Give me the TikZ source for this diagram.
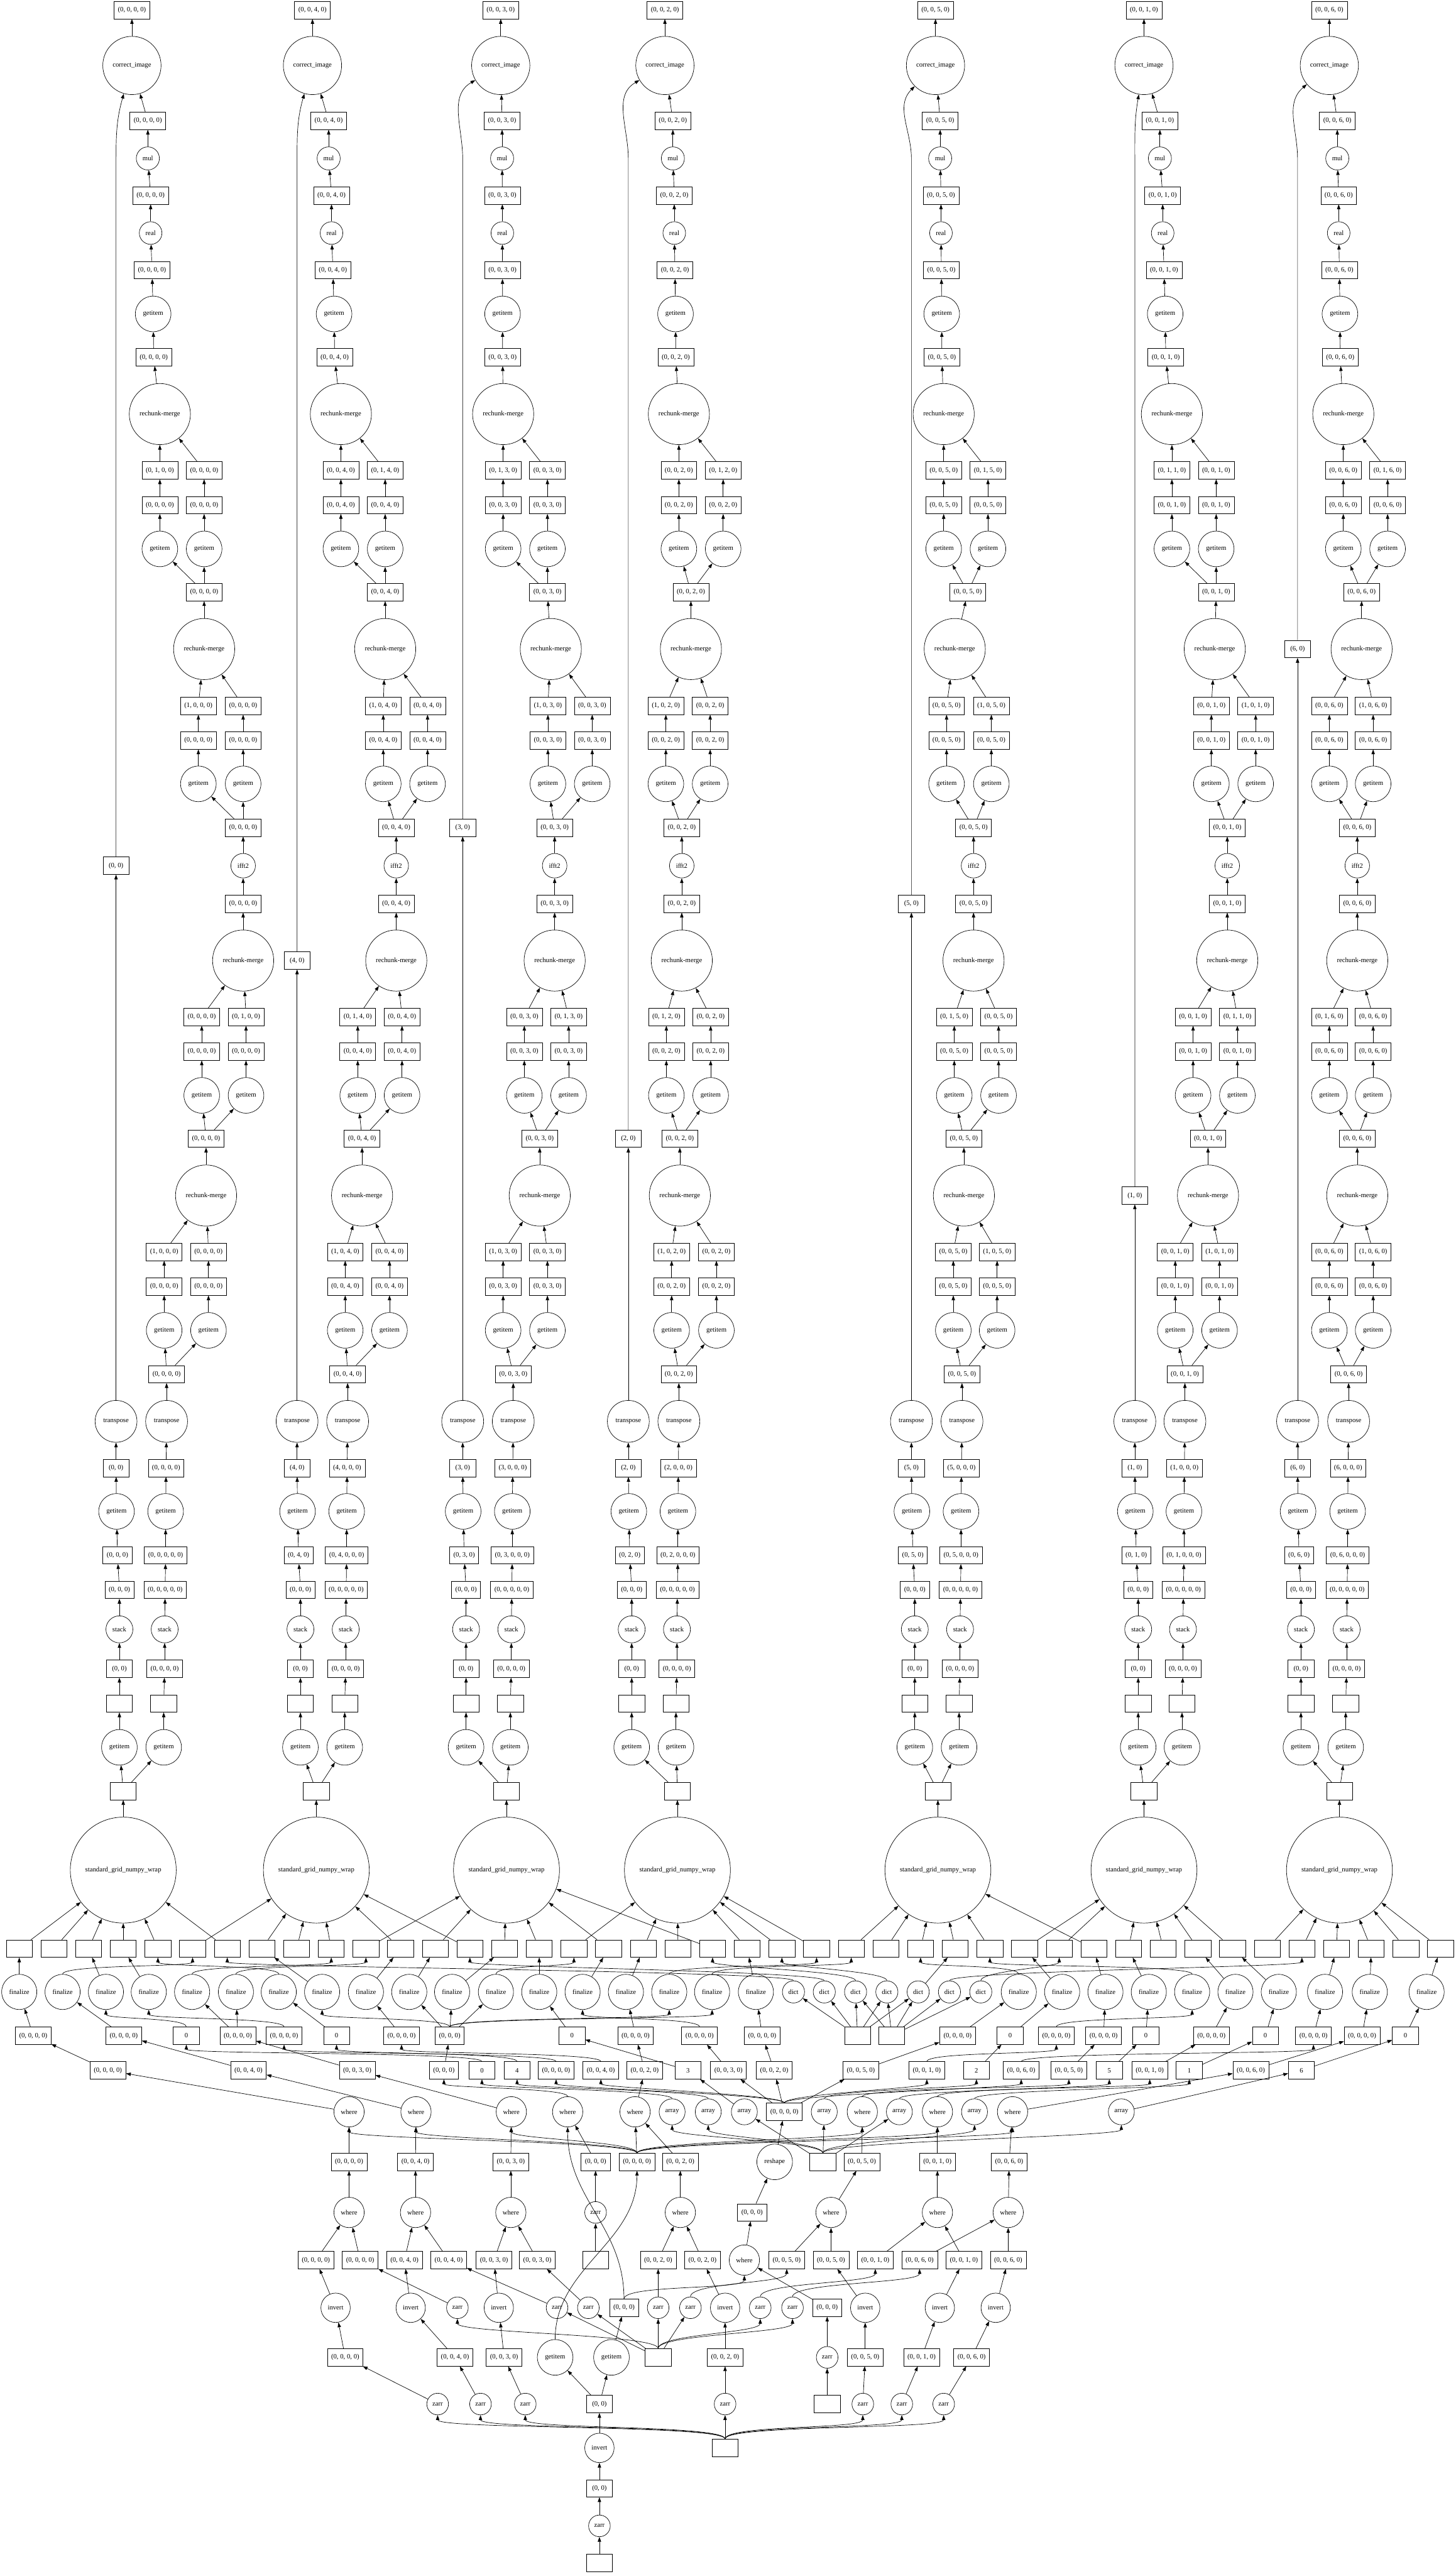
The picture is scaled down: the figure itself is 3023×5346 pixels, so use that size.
\documentclass[tikz,border=0pt]{standalone}
\usepackage{fontspec}
\setmainfont{Liberation Serif}
\usetikzlibrary{arrows.meta}
\pgfkeys{/col/.is family,/col,
 id/.store in=\cid,k/.store in=\ck,L/.store in=\cL,T/.store in=\cT,top/.store in=\ctop,
 r9/.store in=\cRn,al/.store in=\cAl,ar/.store in=\cAr,r13/.store in=\cRb,r14/.store in=\cRc,
 bl/.store in=\cBl,br/.store in=\cBr,r18/.store in=\cRd,dl/.store in=\cDl,dr/.store in=\cDr,
 r25/.store in=\cRe,el/.store in=\cEl,er/.store in=\cEr,sg/.store in=\cSG,ky/.store in=\cKy,
 ang/.store in=\cAng,oa/.store in=\cOa,ob/.store in=\cOb,od/.store in=\cOd,oe/.store in=\cOe}
\tikzset{
 every node/.style={font=\fontsize{14}{16}\selectfont},
 arr/.style={line width=0.9pt,-{Triangle[length=10pt,width=7pt]}},
 bx/.style={draw,line width=0.9pt,rectangle,minimum width=54pt,minimum height=36pt,inner xsep=8pt,inner ysep=1pt},
 op/.style={draw,line width=0.9pt,circle,inner sep=0pt},
 oci/.style={op,minimum size=121pt}, omul/.style={op,minimum size=48pt},
 oreal/.style={op,minimum size=47pt}, oget/.style={op,minimum size=74pt},
 orech/.style={op,minimum size=127pt}, offt/.style={op,minimum size=51pt},
 otr/.style={op,minimum size=87pt}, ostack/.style={op,minimum size=56pt},
 osg/.style={op,minimum size=220pt}, ofin/.style={op,minimum size=73pt},
 odict/.style={op,minimum size=46pt}, owh/.style={op,minimum size=63pt},
 oarr/.style={op,minimum size=54pt}, ors/.style={op,minimum size=74pt},
 oza/.style={op,minimum size=45pt}, oinv/.style={op,minimum size=61pt}
}
\newcommand\sE[2]{\draw[arr] (#1) -- (#2);}
\newcommand\cE[3][22]{\draw[arr] (#2.north) .. controls +(0,-#1) and +(0,#1) .. (#3.south);}
\newcommand\dcol[1]{%
\pgfkeys{/col,#1}%
\edef\cLz{(0, 0, \ck, 0)}\edef\cLo{(0, 1, \ck, 0)}\edef\cLt{(1, 0, \ck, 0)}%
\ifnum\cOa=1\relax\let\tAL\cLo\let\tAR\cLz\else\let\tAL\cLz\let\tAR\cLo\fi
\ifnum\cOb=1\relax\let\tBL\cLt\let\tBR\cLz\else\let\tBL\cLz\let\tBR\cLt\fi
\ifnum\cOd=1\relax\let\tDL\cLo\let\tDR\cLz\else\let\tDL\cLz\let\tDR\cLo\fi
\ifnum\cOe=1\relax\let\tEL\cLt\let\tER\cLz\else\let\tEL\cLz\let\tER\cLt\fi
\pgfmathsetmacro\cXa{\ctop+0.57*(\cRn-\ctop)}%
\pgfmathsetmacro\cXb{\ctop+0.67*(\cRn-\ctop)}%
\pgfmathsetmacro\cXc{\ctop+0.72*(\cRn-\ctop)}%
\pgfmathsetmacro\cXd{\ctop+0.76*(\cRn-\ctop)}%
\pgfmathsetmacro\cXe{\ctop+0.78*(\cRn-\ctop)}%
\node[bx] (\cid r0) at (\ctop,21) {\cLz};
\node[oci] (\cid r1) at (\ctop,136) {correct\_image};
\node[bx] (\cid r2) at (\cXa,251) {\cLz};
\node[omul] (\cid r3) at (\cXa,329) {mul};
\node[bx] (\cid r4) at (\cXb,406) {\cLz};
\node[oreal] (\cid r5) at (\cXb,484) {real};
\node[bx] (\cid r6) at (\cXc,561) {\cLz};
\node[oget] (\cid r7) at (\cXd,652) {getitem};
\node[bx] (\cid r8) at (\cXe,742) {\cLz};
\node[orech] (\cid r9) at (\cRn,860) {rechunk-merge};
\node[bx] (\cid a0) at (\cAl,977) {\tAL};
\node[bx] (\cid b0) at (\cAr,977) {\tAR};
\node[bx] (\cid a1) at (\cAl,1049) {\cLz};
\node[bx] (\cid b1) at (\cAr,1049) {\cLz};
\node[oget] (\cid a2) at (\cAl,1140) {getitem};
\node[oget] (\cid b2) at (\cAr,1140) {getitem};
\node[bx] (\cid r13) at (\cRb,1230) {\cLz};
\node[orech] (\cid r14) at (\cRc,1348) {rechunk-merge};
\node[bx] (\cid c0) at (\cBl,1466) {\tBL};
\node[bx] (\cid d0) at (\cBr,1466) {\tBR};
\node[bx] (\cid c1) at (\cBl,1538) {\cLz};
\node[bx] (\cid d1) at (\cBr,1538) {\cLz};
\node[oget] (\cid c2) at (\cBl,1628) {getitem};
\node[oget] (\cid d2) at (\cBr,1628) {getitem};
\node[bx] (\cid r18) at (\cRd,1719) {\cLz};
\node[offt] (\cid r19) at (\cRd,1798) {ifft2};
\node[bx] (\cid r20) at (\cRd,1877) {\cLz};
\node[orech] (\cid r21) at (\cRd,1995) {rechunk-merge};
\node[bx] (\cid e0) at (\cDl,2112) {\tDL};
\node[bx] (\cid f0) at (\cDr,2112) {\tDR};
\node[bx] (\cid e1) at (\cDl,2184) {\cLz};
\node[bx] (\cid f1) at (\cDr,2184) {\cLz};
\node[oget] (\cid e2) at (\cDl,2275) {getitem};
\node[oget] (\cid f2) at (\cDr,2275) {getitem};
\node[bx] (\cid r25) at (\cRe,2365) {\cLz};
\node[orech] (\cid r26) at (\cRe,2483) {rechunk-merge};
\node[bx] (\cid g0) at (\cEl,2600) {\tEL};
\node[bx] (\cid h0) at (\cEr,2600) {\tER};
\node[bx] (\cid g1) at (\cEl,2672) {\cLz};
\node[bx] (\cid h1) at (\cEr,2672) {\cLz};
\node[oget] (\cid g2) at (\cEl,2763) {getitem};
\node[oget] (\cid h2) at (\cEr,2763) {getitem};
\node[bx] (\cid r30) at (\cT,2854) {\cLz};
\node[otr] (\cid tl) at (\cL,2952) {transpose};
\node[otr] (\cid tr) at (\cT,2952) {transpose};
\node[bx] (\cid kb) at (\cL,\cKy) {(\ck, 0)};
\node[bx] (\cid l0) at (\cL,3049) {(\ck, 0)};
\node[oget] (\cid l1) at (\cL+1,3139) {getitem};
\node[bx] (\cid l2) at (\cL+3,3230) {(0, \ck, 0)};
\node[bx] (\cid l3) at (\cL+7,3302) {(0, 0, 0)};
\node[ostack] (\cid l4) at (\cL+7,3384) {stack};
\node[bx] (\cid l5) at (\cL+7,3466) {(0, 0)};
\node[bx] (\cid l6) at (\cL+7,3538) {};
\node[oget] (\cid l7) at (\cL+7,3629) {getitem};
\node[bx] (\cid m0) at (\cT-1,3049) {(\ck, 0, 0, 0)};
\node[oget] (\cid m1) at (\cT-2,3139) {getitem};
\node[bx] (\cid m2) at (\cT-2,3230) {(0, \ck, 0, 0, 0)};
\node[bx] (\cid m3) at (\cT-3,3302) {(0, 0, 0, 0, 0)};
\node[ostack] (\cid m4) at (\cT-4,3384) {stack};
\node[bx] (\cid m5) at (\cT-4,3466) {(0, 0, 0, 0)};
\node[bx] (\cid m6) at (\cT-6,3538) {};
\node[oget] (\cid m7) at (\cT-6,3629) {getitem};
\node[bx] (\cid sb) at (\cSG,3720) {};
\node[osg] (\cid sg) at (\cSG,3884) {standard\_grid\_numpy\_wrap};
\sE{\cid r1}{\cid r0}\sE{\cid r2}{\cid r1}\sE{\cid r3}{\cid r2}\sE{\cid r4}{\cid r3}
\sE{\cid r5}{\cid r4}\sE{\cid r6}{\cid r5}\sE{\cid r7}{\cid r6}\sE{\cid r8}{\cid r7}
\sE{\cid r9}{\cid r8}\sE{\cid a0}{\cid r9}\sE{\cid b0}{\cid r9}
\sE{\cid a1}{\cid a0}\sE{\cid b1}{\cid b0}\sE{\cid a2}{\cid a1}\sE{\cid b2}{\cid b1}
\sE{\cid r13}{\cid a2}\sE{\cid r13}{\cid b2}\sE{\cid r14}{\cid r13}
\sE{\cid c0}{\cid r14}\sE{\cid d0}{\cid r14}\sE{\cid c1}{\cid c0}\sE{\cid d1}{\cid d0}
\sE{\cid c2}{\cid c1}\sE{\cid d2}{\cid d1}\sE{\cid r18}{\cid c2}\sE{\cid r18}{\cid d2}
\sE{\cid r19}{\cid r18}\sE{\cid r20}{\cid r19}\sE{\cid r21}{\cid r20}
\sE{\cid e0}{\cid r21}\sE{\cid f0}{\cid r21}\sE{\cid e1}{\cid e0}\sE{\cid f1}{\cid f0}
\sE{\cid e2}{\cid e1}\sE{\cid f2}{\cid f1}\sE{\cid r25}{\cid e2}\sE{\cid r25}{\cid f2}
\sE{\cid r26}{\cid r25}\sE{\cid g0}{\cid r26}\sE{\cid h0}{\cid r26}
\sE{\cid g1}{\cid g0}\sE{\cid h1}{\cid h0}\sE{\cid g2}{\cid g1}\sE{\cid h2}{\cid h1}
\sE{\cid r30}{\cid g2}\sE{\cid r30}{\cid h2}\sE{\cid tr}{\cid r30}
\sE{\cid tl}{\cid kb}
\draw[arr] (\cid kb.north) -- (\cL,330) to[out=90,in=\cAng] (\cid r1);
\sE{\cid l0}{\cid tl}\sE{\cid l1}{\cid l0}\sE{\cid l2}{\cid l1}\sE{\cid l3}{\cid l2}
\sE{\cid l4}{\cid l3}\sE{\cid l5}{\cid l4}\sE{\cid l6}{\cid l5}\sE{\cid l7}{\cid l6}
\sE{\cid m0}{\cid tr}\sE{\cid m1}{\cid m0}\sE{\cid m2}{\cid m1}\sE{\cid m3}{\cid m2}
\sE{\cid m4}{\cid m3}\sE{\cid m5}{\cid m4}\sE{\cid m6}{\cid m5}\sE{\cid m7}{\cid m6}
\sE{\cid sb}{\cid l7}\sE{\cid sb}{\cid m7}\sE{\cid sg}{\cid sb}
}
\begin{document}
\begin{tikzpicture}[x=1pt,y=-1pt]
\fill[white] (0,0) rectangle (3023,5346);
\useasboundingbox (0,0) rectangle (3023,5346);
\dcol{id=c1,k=0,L=241,T=346,top=274,r9=332,al=332,ar=424,r13=424,r14=424,bl=412,br=505,r18=505,dl=419,dr=511,r25=428,el=341,er=433,sg=256,ky=1798,ang=-106,oa=1,ob=1,od=0,oe=1}
\dcol{id=c2,k=4,L=617,T=722,top=649,r9=708,al=708,ar=800,r13=800,r14=800,bl=796,br=888,r18=823,dl=743,dr=835,r25=752,el=717,er=809,sg=657,ky=1995,ang=-106,oa=0,ob=1,od=1,oe=1}
\dcol{id=c3,k=3,L=961,T=1066,top=1040,r9=1045,al=1045,ar=1137,r13=1137,r14=1144,bl=1138,br=1230,r18=1152,dl=1089,dr=1181,r25=1121,el=1045,er=1137,sg=1052,ky=1719,ang=-150,oa=1,ob=1,od=0,oe=1}
\dcol{id=c4,k=2,L=1305,T=1410,top=1381,r9=1410,al=1410,ar=1502,r13=1435,r14=1435,bl=1383,br=1475,r18=1416,dl=1384,dr=1476,r25=1412,el=1395,er=1488,sg=1407,ky=2365,ang=-150,oa=0,ob=1,od=1,oe=1}
\dcol{id=c5,k=5,L=1893,T=1998,top=1943,r9=1960,al=1960,ar=2052,r13=2010,r14=1983,bl=1966,br=2059,r18=2022,dl=1982,dr=2074,r25=2002,el=1980,er=2071,sg=1948,ky=1877,ang=-135,oa=0,ob=0,od=1,oe=0}
\dcol{id=c6,k=1,L=2357,T=2461,top=2376,r9=2434,al=2434,ar=2526,r13=2526,r14=2523,bl=2516,br=2608,r18=2549,dl=2478,dr=2570,r25=2509,el=2441,er=2533,sg=2376,ky=2483,ang=-100,oa=1,ob=0,od=0,oe=0}
\dcol{id=c7,k=6,L=2695,T=2801,top=2761,r9=2790,al=2790,ar=2882,r13=2828,r14=2828,bl=2761,br=2852,r18=2819,dl=2761,dr=2852,r25=2819,el=2761,er=2852,sg=2782,ky=1348,ang=-140,oa=0,ob=0,od=1,oe=0}
% R42 blank boxes
\foreach \i in {0,...,41} {\node[bx] (b\i) at ({40+72*\i},4047) {};}
\foreach \i in {0,1,2,3,4,6} {\sE{b\i}{c1sg}}
\foreach \i in {5,7,8,9,11,13} {\sE{b\i}{c2sg}}
\foreach \i in {10,12,14,15,17,20} {\sE{b\i}{c3sg}}
\foreach \i in {16,18,19,21,22,23} {\sE{b\i}{c4sg}}
\foreach \i in {24,25,26,27,28,31} {\sE{b\i}{c5sg}}
\foreach \i in {29,30,32,33,34,35} {\sE{b\i}{c6sg}}
\foreach \i in {36,...,41} {\sE{b\i}{c7sg}}
% R43
\foreach \x in {40,130,220,309,399,490,579,669,760,850,939,1030,1120,1210,1300,1390,1479,1570,2116,2206,2296,2386,2476,2566,2656,2752,2845,2963} {\node[ofin] (f\x) at (\x,4137) {finalize};}
\foreach \x in {1648,1712,1777,1842,1907,1972,2037} {\node[odict] (d\x) at (\x,4137) {dict};}
\foreach \a/\b in {40/0,220/2,309/3,669/7,760/11,850/12,939/14,1120/15,1210/17,1300/18,1570/21,2206/29,2296/31,2386/32,2566/34,2656/35,2752/38,2845/39,2963/41} {\sE{f\a}{b\b}}
\foreach \a/\b in {130/5,399/9,490/10,579/4,1030/16,1390/23,1479/24,2116/26,2476/28} {\cE[20]{f\a}{b\b}}
\sE{d1907}{b27}
\foreach \a/\b in {1648/6,1712/13,1777/20,1842/22,1972/37,2037/30} {\cE[20]{d\a}{b\b}}
% R44
\foreach \n/\x/\t in {a69/69/{(0, 0, 0, 0)},a257/257/{(0, 0, 0, 0)},z387/387/0,a494/494/{(0, 0, 0, 0)},a590/590/{(0, 0, 0, 0)},z699/699/0,a834/834/{(0, 0, 0, 0)},hub/934/{(0, 0, 0)},z1188/1188/0,a1320/1320/{(0, 0, 0, 0)},a1453/1453/{(0, 0, 0, 0)},a1583/1583/{(0, 0, 0, 0)},s1781/1781/{},s1852/1852/{},a1989/1989/{(0, 0, 0, 0)},z2098/2098/0,a2194/2194/{(0, 0, 0, 0)},a2292/2292/{(0, 0, 0, 0)},z2380/2380/0,a2516/2516/{(0, 0, 0, 0)},z2628/2628/0,a2728/2728/{(0, 0, 0, 0)},a2829/2829/{(0, 0, 0, 0)},z2919/2919/0} {\node[bx] (\n) at (\x,4228) {\t};}
\foreach \a/\b in {a69/40,a257/130,a494/399,a494/490,z699/579,a834/760,hub/850,hub/939,hub/1030,z1188/1120,a1320/1300,a1583/1570,a1989/2116,z2098/2206,a2292/2296,z2380/2386,a2516/2566,z2628/2656,a2728/2752,a2829/2845,z2919/2963} {\sE{\a}{f\b}}
\foreach \a/\b in {z387/220,a590/309,hub/669,a1453/1210,hub/1390,hub/1479,a2194/2476} {\cE[20]{\a}{f\b}}
\foreach \a/\b in {s1781/1648,s1781/1712,s1781/1777,s1781/1842,s1781/1907,s1852/1777,s1852/1842,s1852/1907,s1852/1972,s1852/2037} {\sE{\a}{d\b}}
% R45
\foreach \n/\x/\t in {w224/224/{(0, 0, 0, 0)},w516/516/{(0, 0, 4, 0)},w742/742/{(0, 0, 3, 0)},h922/922/{(0, 0, 0)},i1001/1001/0,i1074/1074/4,p1155/1155/{(0, 0, 0, 0)},p1248/1248/{(0, 0, 4, 0)},w1339/1339/{(0, 0, 2, 0)},i1429/1429/3,p1513/1513/{(0, 0, 3, 0)},p1608/1608/{(0, 0, 2, 0)},p1788/1788/{(0, 0, 5, 0)},p1925/1925/{(0, 0, 1, 0)},i2028/2028/2,p2121/2121/{(0, 0, 6, 0)},w2220/2220/{(0, 0, 5, 0)},i2304/2304/5,w2388/2388/{(0, 0, 1, 0)},i2470/2470/1,w2598/2598/{(0, 0, 6, 0)},i2703/2703/6} {\node[bx] (\n) at (\x,4300) {\t};}
\foreach \a/\b in {w224/a69,w516/a257,w742/a494,h922/hub,i1429/z1188,w1339/a1320,p1513/a1453,p1608/a1583,p1788/a1989,i2028/z2098,w2220/a2292,i2304/z2380,w2388/a2516,i2470/z2628,w2598/a2829,i2703/z2919} {\sE{\a}{\b}}
\foreach \a/\b in {i1001/z387,p1155/a590,i1074/z699,p1248/a834,p1925/a2194,p2121/a2728} {\cE[20]{\a}{\b}}
% R46
\foreach \x in {725,864,1062,1179,1319,1791,1947,2103} {\node[owh] (wh\x) at (\x,4386) {where};}
\foreach \x in {1396,1471,1546,1712,1868,2024,2329} {\node[oarr] (ar\x) at (\x,4386) {array};}
\node[bx] (q1629) at (1629,4386) {(0, 0, 0, 0)};
\foreach \a/\b in {wh725/w224,wh864/w516,wh1062/w742,wh1319/w1339,wh2103/w2598,q1629/p1513,q1629/p1608,q1629/p1788,ar1546/i1429,ar2329/i2703} {\sE{\a}{\b}}
\foreach \a/\b in {wh1179/h922,wh1791/w2220,wh1947/w2388,q1629/p1155,q1629/p1248,q1629/p1925,q1629/p2121,ar1396/i1001,ar1471/i1074,ar1712/i2028,ar1868/i2304,ar2024/i2470} {\cE[18]{\a}{\b}}
% R47
\foreach \n/\x/\t in {g725/725/{(0, 0, 0, 0)},g863/863/{(0, 0, 4, 0)},g1061/1061/{(0, 0, 3, 0)},g1237/1237/{(0, 0, 0)},g1323/1323/{(0, 0, 0, 0)},g1413/1413/{(0, 0, 2, 0)},s1709/1709/{},g1790/1790/{(0, 0, 5, 0)},g1947/1947/{(0, 0, 1, 0)},g2096/2096/{(0, 0, 6, 0)}} {\node[bx] (\n) at (\x,4490) {\t};}
\node[ors] (rs1609) at (1609,4490) {reshape};
\foreach \a/\b in {g725/wh725,g863/wh864,g1061/wh1062,g1237/wh1179,g1413/wh1319,g1323/wh1319,rs1609/q1629,s1709/ar1546,s1709/ar1712,s1709/ar1868,g1790/wh1791,g1947/wh1947,g2096/wh2103} {\sE{\a}{\b}}
\foreach \a/\b in {g1323/wh725,g1323/wh864,g1323/wh1062,g1323/wh1791,g1323/wh1947,g1323/wh2103,s1709/ar1396,s1709/ar1471,s1709/ar2024,s1709/ar2329} {\cE[25]{\a}{\b}}
% R48
\foreach \x in {725,863,1061,1413,1726,1947,2094} {\node[owh] (v\x) at (\x,4595) {where};}
\node[oza] (zz1237) at (1237,4595) {zarr};
\node[bx] (m1562) at (1562,4595) {(0, 0, 0)};
\foreach \a/\b in {v725/g725,v863/g863,v1061/g1061,zz1237/g1237,v1413/g1413,m1562/rs1609,v1726/g1790,v1947/g1947,v2094/g2096} {\sE{\a}{\b}}
% R49
\foreach \n/\x/\t in {k656/656/{(0, 0, 0, 0)},k748/748/{(0, 0, 0, 0)},k840/840/{(0, 0, 4, 0)},k932/932/{(0, 0, 4, 0)},k1026/1026/{(0, 0, 3, 0)},k1116/1116/{(0, 0, 3, 0)},s1237/1237/{},k1367/1367/{(0, 0, 2, 0)},k1459/1459/{(0, 0, 2, 0)},k1634/1634/{(0, 0, 5, 0)},k1726/1726/{(0, 0, 5, 0)},k1818/1818/{(0, 0, 1, 0)},k1910/1910/{(0, 0, 6, 0)},k2002/2002/{(0, 0, 1, 0)},k2094/2094/{(0, 0, 6, 0)}} {\node[bx] (\n) at (\x,4694) {\t};}
\node[owh] (v1546) at (1546,4694) {where};
\foreach \a/\b in {k656/v725,k748/v725,k840/v863,k932/v863,k1026/v1061,k1116/v1061,s1237/zz1237,k1367/v1413,k1459/v1413,v1546/m1562,k1634/v1726,k1726/v1726,k1818/v1947,k2002/v1947,k1910/v2094,k2094/v2094} {\sE{\a}{\b}}
% R50
\foreach \x in {697,853,1036,1506,1797,1952,2068} {\node[oinv] (iv\x) at (\x,4793) {invert};}
\foreach \x in {950,1157,1222,1367,1434,1579,1646} {\node[oza] (za\x) at (\x,4793) {zarr};}
\node[bx] (m1296) at (1296,4793) {(0, 0, 0)};
\node[bx] (m1718) at (1718,4793) {(0, 0, 0)};
\foreach \a/\b in {iv697/k656,za950/k748,iv853/k840,za1157/k932,iv1036/k1026,za1222/k1116,za1367/k1367,iv1506/k1459,m1718/v1546,iv1797/k1726,iv1952/k2002,iv2068/k2094} {\sE{\a}{\b}}
\foreach \a/\b in {za1434/k1634,za1579/k1818,za1646/k1910,m1296/v1546} {\cE[30]{\a}{\b}}
\cE[150]{m1296}{wh1179}
% R51
\foreach \n/\x/\t in {n717/717/{(0, 0, 0, 0)},n945/945/{(0, 0, 4, 0)},n1047/1047/{(0, 0, 3, 0)},s1367/1367/{},n1506/1506/{(0, 0, 2, 0)},n1797/1797/{(0, 0, 5, 0)},n1914/1914/{(0, 0, 1, 0)},n2018/2018/{(0, 0, 6, 0)}} {\node[bx] (\n) at (\x,4896) {\t};}
\node[oget] (gt1153) at (1153,4896) {getitem};
\node[oget] (gt1270) at (1270,4896) {getitem};
\node[oza] (zb1718) at (1718,4896) {zarr};
\foreach \a/\b in {n717/iv697,n945/iv853,n1047/iv1036,gt1270/m1296,s1367/za1157,s1367/za1222,s1367/za1367,s1367/za1434,n1506/iv1506,zb1718/m1718,n1797/iv1797,n1914/iv1952,n2018/iv2068} {\sE{\a}{\b}}
\foreach \a/\b in {s1367/za950,s1367/za1579,s1367/za1646} {\cE[30]{\a}{\b}}
\cE[150]{gt1153}{g1323}
% R52
\foreach \x in {909,998,1091,1506,1792,1873,1960} {\node[oza] (zc\x) at (\x,4993) {zarr};}
\node[bx] (o1245) at (1245,4993) {(0, 0)};
\node[bx] (s1718) at (1718,4993) {};
\foreach \a/\b in {zc909/n717,zc998/n945,zc1091/n1047,o1245/gt1153,o1245/gt1270,zc1506/n1506,s1718/zb1718,zc1792/n1797,zc1873/n1914,zc1960/n2018} {\sE{\a}{\b}}
% R53-R56
\node[oinv] (iv1245) at (1245,5084) {invert};
\node[bx] (src) at (1506,5084) {};
\node[bx] (o1245b) at (1245,5168) {(0, 0)};
\node[oza] (zd) at (1245,5246) {zarr};
\node[bx] (s1245) at (1245,5323) {};
\sE{iv1245}{o1245}\sE{src}{zc1506}\sE{o1245b}{iv1245}\sE{zd}{o1245b}\sE{s1245}{zd}
\foreach \b in {zc909,zc998,zc1091,zc1792,zc1873,zc1960} {\cE[30]{src}{\b}}
\end{tikzpicture}
\end{document}
